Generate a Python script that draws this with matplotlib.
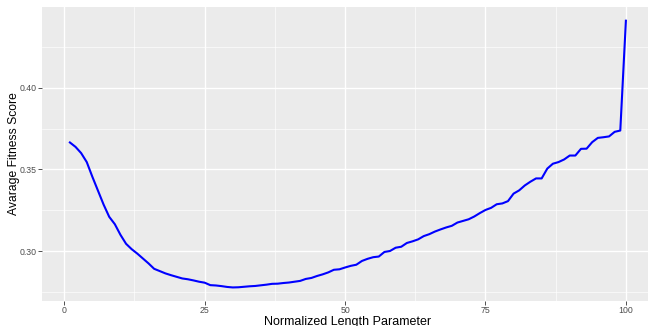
import matplotlib
matplotlib.use("Agg")
from matplotlib import pyplot as plt
from matplotlib.ticker import MultipleLocator

length_param = list(range(1, 101))
fitness = [
    0.3665, 0.3638, 0.3600, 0.3545, 0.3455, 0.3370, 0.3285, 0.3210, 0.3165, 0.3100,
    0.3045, 0.3012, 0.2985, 0.2955, 0.2925, 0.2892, 0.2878, 0.2864, 0.2853, 0.2843,
    0.2833, 0.2828, 0.2821, 0.2813, 0.2807, 0.2792, 0.2790, 0.2786, 0.2781, 0.2778,
    0.2779, 0.2782, 0.2785, 0.2787, 0.2791, 0.2795, 0.2800, 0.2801, 0.2805, 0.2808,
    0.2813, 0.2818, 0.2830, 0.2836, 0.2848, 0.2858, 0.2870, 0.2886, 0.2889, 0.2900,
    0.2910, 0.2917, 0.2940, 0.2953, 0.2963, 0.2967, 0.2995, 0.3001, 0.3021, 0.3027,
    0.3050, 0.3060, 0.3072, 0.3092, 0.3104, 0.3120, 0.3133, 0.3145, 0.3155, 0.3175,
    0.3185, 0.3195, 0.3212, 0.3233, 0.3252, 0.3265, 0.3287, 0.3292, 0.3306, 0.3352,
    0.3372, 0.3402, 0.3425, 0.3445, 0.3445, 0.3505, 0.3535, 0.3545, 0.3561, 0.3585,
    0.3585, 0.3626, 0.3627, 0.3667, 0.3693, 0.3697, 0.3702, 0.3730, 0.3738, 0.4410,
]

plt.rcParams['font.family'] = ['Liberation Sans', 'DejaVu Sans']

W, H = 648, 326
fig = plt.figure(figsize=(W / 100, H / 100), dpi=100)
# panel in pixel coords (left, top, right, bottom) -- right edge runs off the image
l, t, r, b = 42.1, 7.3, 653.7, 301.0
ax = fig.add_axes([l / W, 1 - b / H, (r - l) / W, (b - t) / H])

ax.set_facecolor('#EBEBEB')
ax.plot(length_param, fitness, color='#0000FF', lw=1.5, zorder=3)

ax.set_xlim(-3.95, 104.95)
ax.set_ylim(0.2695, 0.4492)
ax.xaxis.set_major_locator(MultipleLocator(25))
ax.xaxis.set_minor_locator(MultipleLocator(12.5))
ax.yaxis.set_major_locator(MultipleLocator(0.05))
ax.yaxis.set_minor_locator(MultipleLocator(0.025))
ax.xaxis.set_major_formatter('{x:.0f}')
ax.yaxis.set_major_formatter('{x:.2f}')

ax.grid(which='major', color='white', lw=1.0)
ax.grid(which='minor', color='white', lw=0.45)
ax.set_axisbelow(True)
for s in ax.spines.values():
    s.set_visible(False)

ax.tick_params(which='major', length=2.7, width=0.6, color='#333333',
               labelsize=6.3, labelcolor='#4D4D4D', pad=1.2)
ax.tick_params(which='minor', length=0)

# axis titles placed by pixel position; x title runs off the bottom like the original
ax.set_xlabel("Normalized Length Parameter", fontsize=9.0, color='black', va='center')
ax.set_ylabel("Avarage Fitness Score", fontsize=8.7, color='black', va='center')
ax.xaxis.set_label_coords(0.5, (b - 321.5) / (b - t))
ax.yaxis.set_label_coords((13.5 - l) / (r - l), (b - 154) / (b - t))

fig.savefig("out.png", dpi=100)
